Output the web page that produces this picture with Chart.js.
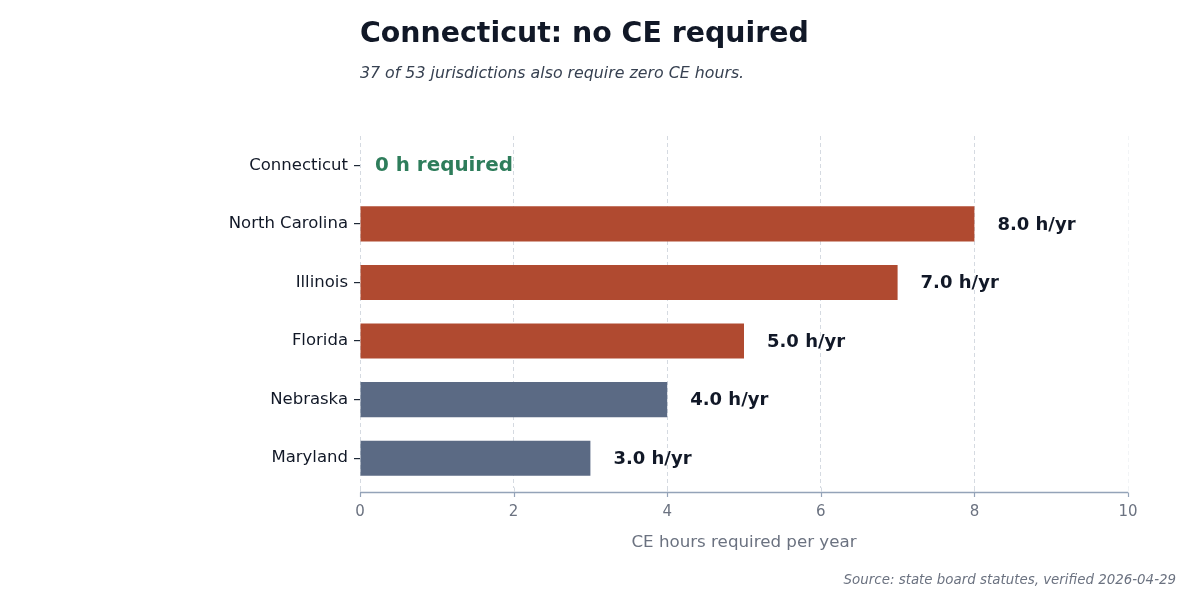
<!DOCTYPE html>
<html>
<head>
<meta charset="utf-8">
<script src="https://cdn.jsdelivr.net/npm/chart.js@4/dist/chart.umd.min.js"></script>
<style>
html,body{margin:0;padding:0;background:#fff;}
#wrap{width:1200px;height:600px;position:relative;}
</style>
</head>
<body>
<div id="wrap"><canvas id="c"></canvas></div>
<script>
const categories = ["Connecticut", "North Carolina", "Illinois", "Florida", "Nebraska", "Maryland"];
const hours = [0, 8, 7, 5, 4, 3];
const barColors = ["#B04A30", "#B04A30", "#B04A30", "#B04A30", "#5B6A84", "#5B6A84"];
const xTicks = [0, 2, 4, 6, 8, 10];
const titleText = "Connecticut: no CE required";
const subtitleText = "37 of 53 jurisdictions also require zero CE hours.";
const sourceText = "Source: state board statutes, verified 2026-04-29";
const xTitle = "CE hours required per year";
const zeroLabel = "0 h required";

const FONT = "'DejaVu Sans', sans-serif";
const GRID = '#D5DAE1';
const GRID_FAINT = 'rgba(213,218,225,0.3)';
const AXIS = '#94A3B8';
const AXIS_Y = 492.5;

function gridColorFor(v) { return v === 10 ? GRID_FAINT : GRID; }

const annotate = {
  id: 'annotate',
  afterDatasetsDraw(chart) {
    const ctx = chart.ctx;
    const meta = chart.getDatasetMeta(0);
    const xs = chart.scales.x;
    const bottom = chart.chartArea.bottom;
    ctx.save();
    ctx.setLineDash([4, 3]);
    ctx.lineWidth = 1;
    xTicks.forEach(v => {
      const px = Math.round(xs.getPixelForValue(v)) + 0.5;
      ctx.strokeStyle = gridColorFor(v);
      ctx.beginPath();
      ctx.moveTo(px, bottom);
      ctx.lineTo(px, AXIS_Y);
      ctx.stroke();
    });
    ctx.setLineDash([]);
    ctx.strokeStyle = AXIS;
    ctx.lineWidth = 1.3;
    ctx.beginPath();
    ctx.moveTo(xs.getPixelForValue(0), AXIS_Y);
    ctx.lineTo(xs.getPixelForValue(10), AXIS_Y);
    ctx.stroke();
    ctx.lineWidth = 1.2;
    xTicks.forEach(v => {
      const px = Math.round(xs.getPixelForValue(v)) + 0.5;
      ctx.beginPath();
      ctx.moveTo(px, AXIS_Y);
      ctx.lineTo(px, AXIS_Y + 4.5);
      ctx.stroke();
    });
    ctx.textBaseline = 'middle';
    ctx.textAlign = 'left';
    meta.data.forEach((bar, i) => {
      const v = hours[i];
      if (v === 0) {
        ctx.fillStyle = '#2E7D5B';
        ctx.font = "bold 19.9px " + FONT;
        ctx.fillText(zeroLabel, xs.getPixelForValue(0) + 15, bar.y + 1);
      } else {
        ctx.fillStyle = '#111827';
        ctx.font = "bold 18px " + FONT;
        ctx.fillText(v.toFixed(1) + " h/yr", bar.x + 23, bar.y + 1);
      }
    });
    ctx.restore();
  },
  afterDraw(chart) {
    const ctx = chart.ctx;
    const left = chart.chartArea.left;
    ctx.save();
    ctx.textAlign = 'left';
    ctx.textBaseline = 'middle';
    ctx.fillStyle = '#111827';
    ctx.font = "bold 28.4px " + FONT;
    ctx.fillText(titleText, left, 35);
    ctx.fillStyle = '#374151';
    ctx.font = "italic 15.8px " + FONT;
    ctx.fillText(subtitleText, left, 74);
    ctx.fillStyle = '#6B7280';
    ctx.font = "italic 13.4px " + FONT;
    ctx.textAlign = 'right';
    ctx.fillText(sourceText, 1176, 581);
    ctx.restore();
  }
};

new Chart(document.getElementById('c'), {
  type: 'bar',
  data: {
    labels: categories,
    datasets: [{
      data: hours,
      backgroundColor: barColors,
      borderWidth: 0,
      barPercentage: 0.6,
      categoryPercentage: 1.0
    }]
  },
  options: {
    indexAxis: 'y',
    responsive: true,
    maintainAspectRatio: false,
    animation: false,
    layout: { padding: { top: 136, right: 72, bottom: 0, left: 0 } },
    plugins: { legend: { display: false }, tooltip: { enabled: false }, title: { display: false } },
    scales: {
      x: {
        min: 0, max: 10,
        afterBuildTicks(scale) { scale.ticks = xTicks.map(v => ({ value: v })); },
        afterFit(scale) { scale.height = 112.5; },
        border: { display: false, dash: [4, 3] },
        grid: {
          color: (c) => gridColorFor(c.tick ? c.tick.value : null),
          lineWidth: 1,
          drawTicks: false
        },
        ticks: {
          color: '#6B7280',
          font: { family: FONT, size: 15 },
          padding: 16
        },
        title: {
          display: true,
          text: xTitle,
          color: '#6B7280',
          font: { family: FONT, size: 16.7 },
          padding: { top: 0, bottom: 47 }
        }
      },
      y: {
        afterFit(scale) { scale.width = 360; },
        border: { display: false },
        grid: { offset: false, drawOnChartArea: false, drawTicks: true, tickLength: 6, tickColor: '#1F2937', lineWidth: 1.2 },
        ticks: {
          color: '#111827',
          font: { family: FONT, size: 16.5 },
          padding: 6
        }
      }
    }
  },
  plugins: [annotate]
});
</script>
</body>
</html>
